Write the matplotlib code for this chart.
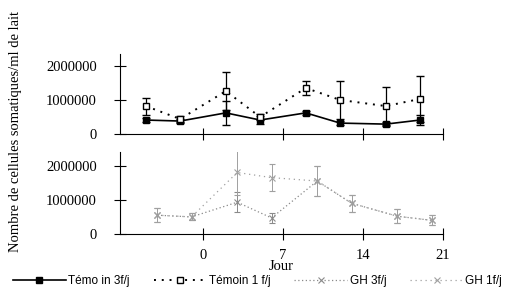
import matplotlib
matplotlib.use('Agg')
import matplotlib.pyplot as plt
from matplotlib.lines import Line2D

# jours de prélèvement
days_temoin = [-5, -2, 2, 5, 9, 12, 16, 19]
days_gh = [-4, -1, 3, 6, 10, 13, 17, 20]

# cellules somatiques / ml
temoin_3 = [410000, 380000, 620000, 410000, 620000, 320000, 290000, 410000]
temoin_3_err = [50000, 50000, 350000, 120000, 50000, 50000, 50000, 150000]
temoin_1 = [820000, 440000, 1260000, 500000, 1350000, 1000000, 820000, 1030000]
temoin_1_err = [250000, 100000, 550000, 100000, 200000, 560000, 560000, 670000]

gh_3 = [550000, 500000, 930000, 470000, 1550000, 900000, 520000, 400000]
gh_3_err = [200000, 100000, 300000, 150000, 450000, 250000, 200000, 150000]
gh_1 = [550000, 500000, 1800000, 1650000, 1550000, 900000, 520000, 400000]
gh_1_err = [200000, 100000, 650000, 400000, 450000, 250000, 200000, 150000]

x_ticks = [0, 7, 14, 21]
y_ticks = [0, 1000000, 2000000]

serif = ['Liberation Serif', 'DejaVu Serif']
sans = ['Liberation Sans', 'DejaVu Sans']

styles = {
    'Témo in 3f/j': dict(color='black', lw=1.2, ls='-', marker='s', ms=5, mfc='black'),
    'Témoin 1 f/j': dict(color='black', lw=1.4, ls=(0, (1, 3)), marker='s', ms=5, mfc='white'),
    'GH 3f/j': dict(color='#8a8a8a', lw=0.9, ls=(0, (1, 2)), marker='x', ms=5, mew=0.8),
    'GH 1f/j': dict(color='#a0a0a0', lw=0.9, ls=(0, (1, 3)), marker='x', ms=5, mew=0.8),
}

fig = plt.figure(figsize=(5.05, 2.95), dpi=100)
ax_top = fig.add_axes([0.2376, 0.5458, 0.6396, 0.2712])
ax_bot = fig.add_axes([0.2376, 0.2068, 0.6396, 0.278])

ax_top.errorbar(days_temoin, temoin_3, yerr=temoin_3_err, capsize=3, elinewidth=0.9,
                **styles['Témo in 3f/j'])
ax_top.errorbar(days_temoin, temoin_1, yerr=temoin_1_err, capsize=3, elinewidth=0.9,
                **styles['Témoin 1 f/j'])
ax_bot.errorbar(days_gh, gh_3, yerr=gh_3_err, capsize=2, elinewidth=0.7, **styles['GH 3f/j'])
ax_bot.errorbar(days_gh, gh_1, yerr=gh_1_err, capsize=2, elinewidth=0.7, **styles['GH 1f/j'])

for ax, top in ((ax_top, 2350000), (ax_bot, 2400000)):
    ax.set_xlim(-7.26, 21)
    ax.set_ylim(0, top)
    ax.spines['top'].set_visible(False)
    ax.spines['right'].set_visible(False)
    ax.set_xticks(x_ticks)
    ax.set_yticks(y_ticks)
    ax.set_yticklabels([str(v) for v in y_ticks], family=serif, fontsize=10.5)
    ax.tick_params(direction='inout', length=9, width=0.8)
    ax.tick_params(axis='y', pad=12)
    ax.set_facecolor('none')

ax_top.set_xticklabels([])
ax_bot.set_xticklabels([str(v) for v in x_ticks], family=serif, fontsize=10.5)
ax_bot.tick_params(axis='x', pad=6)
ax_bot.set_xlabel('Jour', family=serif, fontsize=10.5, labelpad=-1)

fig.text(0.03, 0.555, 'Nombre de cellules somatiques/ml de lait', rotation=90,
         ha='center', va='center', family=serif, fontsize=10.5)

handles = [Line2D([], [], **st) for st in styles.values()]
fig.legend(handles, list(styles.keys()), ncol=4, loc='lower center', bbox_to_anchor=(0.51, -0.01),
           frameon=False, prop={'family': sans, 'size': 8.5}, handlelength=4.5,
           columnspacing=2.0, handletextpad=0.2)

fig.savefig('out.png', dpi=100)
